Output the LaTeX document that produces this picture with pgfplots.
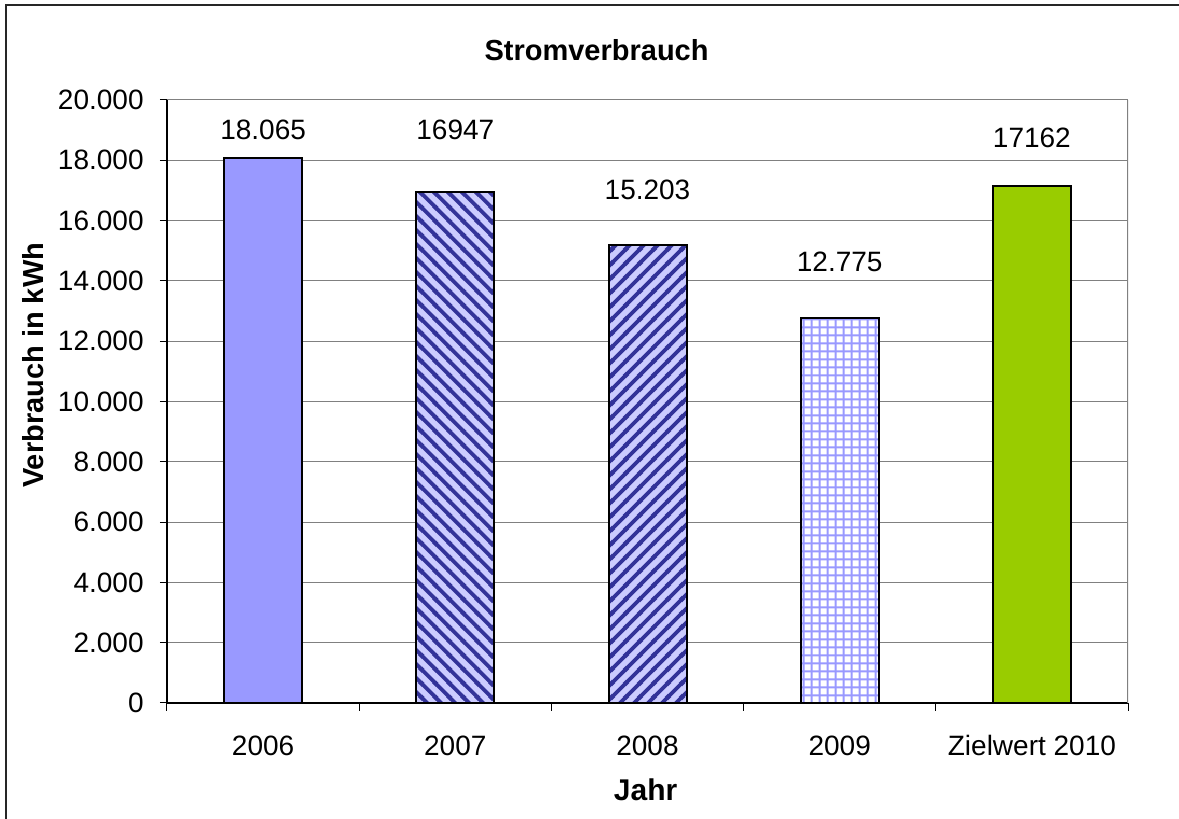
\documentclass[border=0pt]{standalone}
\usepackage{fontspec}
\setmainfont{Liberation Sans}
\usepackage{pgfplots}
\pgfplotsset{compat=1.18}
\usetikzlibrary{patterns.meta}
\definecolor{bluefill}{HTML}{9999FF}
\definecolor{lav}{HTML}{CCCCFF}
\definecolor{navystripe}{HTML}{333399}
\definecolor{zielgreen}{HTML}{99CC00}
\tikzdeclarepattern{
  name=stripesNE, type=uncolored,
  bottom left={(0pt,0pt)}, top right={(6.8pt,6.8pt)}, tile size={(6.8pt,6.8pt)},
  code={
    \draw[line width=1.9pt] (-1pt,-1pt) -- (7.8pt,7.8pt);
    \draw[line width=1.9pt] (-1pt,5.8pt) -- (1pt,7.8pt);
    \draw[line width=1.9pt] (5.8pt,-1pt) -- (7.8pt,1pt);
  }
}
\tikzdeclarepattern{
  name=stripesNW, type=uncolored,
  bottom left={(0pt,0pt)}, top right={(6.8pt,6.8pt)}, tile size={(6.8pt,6.8pt)},
  code={
    \draw[line width=1.9pt] (-1pt,7.8pt) -- (7.8pt,-1pt);
    \draw[line width=1.9pt] (-1pt,1pt) -- (1pt,-1pt);
    \draw[line width=1.9pt] (5.8pt,7.8pt) -- (7.8pt,5.8pt);
  }
}
\tikzdeclarepattern{
  name=smallgrid, type=uncolored,
  bottom left={(0pt,0pt)}, top right={(4pt,4pt)}, tile size={(4pt,4pt)},
  code={
    \draw[line width=1.1pt] (-0.5pt,2pt) -- (4.5pt,2pt);
    \draw[line width=1.1pt] (2pt,-0.5pt) -- (2pt,4.5pt);
  }
}
\begin{document}
\begin{tikzpicture}
\useasboundingbox (0,0) rectangle (589.5pt,409.5pt);
\fill[white] (0,0) rectangle (589.5pt,409.5pt);
\draw[line width=1pt, black!85] (3pt,-5pt) -- (3pt,407pt) -- (600pt,407pt);
\begin{axis}[
  at={(83.5pt,58pt)}, anchor=south west,
  scale only axis, width=480.5pt, height=301.5pt,
  xmin=-0.5, xmax=4.5, ymin=0, ymax=20000,
  axis lines*=left,
  axis line style={black, line width=0.6pt},
  ybar, bar width=39pt, bar shift=0pt,
  xtick={0,1,2,3,4},
  xticklabels={2006,2007,2008,2009,Zielwert 2010},
  major x tick style={draw=none},
  minor xtick={-0.5,0.5,1.5,2.5,3.5,4.5},
  minor tick length=4pt,
  minor x tick style={black, line width=0.5pt},
  major tick length=3.5pt,
  tick align=outside,
  ytick={0,2000,...,20000},
  ytick style={black, line width=0.5pt},
  ymajorgrids,
  grid style={black!50, line width=0.5pt},
  scaled y ticks=false,
  /pgf/number format/.cd, fixed, 1000 sep={.}, assume math mode=true, /pgfplots/.cd,
  tick label style={font=\fontsize{14}{16}\selectfont},
  xticklabel style={anchor=base, yshift=-23pt},
  yticklabel style={anchor=east, inner sep=0pt, xshift=-8pt},
  title={Stromverbrauch},
  title style={at={(axis description cs:0.447,1.062)}, anchor=center, font=\bfseries\fontsize{14.5}{16}\selectfont},
  xlabel={Jahr},
  xlabel style={at={(axis description cs:0.498,-0.144)}, anchor=center, font=\bfseries\fontsize{15}{18}\selectfont},
  ylabel={Verbrauch in kWh},
  ylabel style={at={(axis description cs:-0.139,0.56)}, anchor=center, font=\bfseries\fontsize{14.5}{18}\selectfont},
  every node near coord/.append style={anchor=center, font=\fontsize{14}{16}\selectfont, black},
]
\addplot[draw=black, line width=1pt, fill=bluefill,
  nodes near coords={18.065}, nodes near coords style={yshift=14pt}]
  coordinates {(0,18065)};
\addplot[draw=black, line width=1pt, fill=lav,
  postaction={pattern=stripesNW, pattern color=navystripe},
  nodes near coords={16947}, nodes near coords style={yshift=31pt}]
  coordinates {(1,16947)};
\addplot[draw=black, line width=1pt, fill=lav,
  postaction={pattern=stripesNE, pattern color=navystripe},
  nodes near coords={15.203}, nodes near coords style={yshift=27.3pt}]
  coordinates {(2,15203)};
\addplot[draw=black, line width=1pt, fill=white,
  postaction={pattern=smallgrid, pattern color=bluefill},
  nodes near coords={12.775}, nodes near coords style={yshift=28pt}]
  coordinates {(3,12775)};
\addplot[draw=black, line width=1pt, fill=zielgreen,
  nodes near coords={17162}, nodes near coords style={yshift=23.8pt}]
  coordinates {(4,17162)};
\draw[black!50, line width=0.6pt] (rel axis cs:1,0) -- (rel axis cs:1,1);
\end{axis}
\end{tikzpicture}
\end{document}
